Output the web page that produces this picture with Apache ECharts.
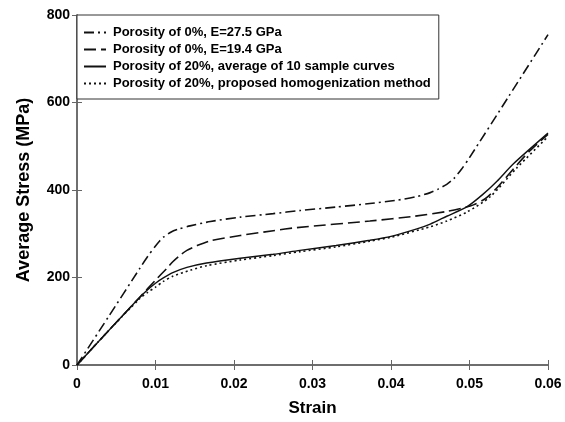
<!DOCTYPE html>
<html>
<head>
<meta charset="utf-8">
<script src="https://cdn.jsdelivr.net/npm/echarts@6/dist/echarts.min.js"></script>
<style>
  html, body {margin: 0; padding: 0; background: #fff;}
  #main {width: 565px; height: 422px;}
</style>
</head>
<body>
<div id="main"></div>
<script>
// legend names
const seriesNames = [
    'Porosity of 0%, E=27.5 GPa',
    'Porosity of 0%, E=19.4 GPa',
    'Porosity of 20%, average of 10 sample curves',
    'Porosity of 20%, proposed homogenization method'
];

// [strain, stress MPa]
const e275 = [[0, 0], [0.004, 110], [0.008, 221], [0.009, 248], [0.010, 272], [0.0105, 283], [0.011, 292],
    [0.012, 304], [0.013, 311], [0.0144, 318], [0.017, 328], [0.0208, 338], [0.025, 346], [0.0284, 353],
    [0.033, 361], [0.0373, 369], [0.0405, 376], [0.0433, 385], [0.045, 394], [0.046, 402], [0.0471, 413],
    [0.048, 426], [0.049, 448], [0.050, 474], [0.055, 614], [0.060, 755]];
const e194 = [[0, 0], [0.004, 78], [0.008, 155], [0.010, 194], [0.0115, 222], [0.0122, 236], [0.013, 249],
    [0.014, 262], [0.0153, 273], [0.017, 284], [0.0208, 296], [0.025, 307], [0.028, 314], [0.0373, 329],
    [0.043, 340], [0.0471, 351], [0.0494, 360], [0.0505, 366], [0.052, 380], [0.0535, 405], [0.0552, 440],
    [0.0577, 490], [0.060, 527]];
const avg20 = [[0, 0], [0.004, 78], [0.008, 155], [0.009, 172], [0.010, 187], [0.011, 199], [0.0122, 211],
    [0.014, 223], [0.0165, 233], [0.0208, 244], [0.025, 253], [0.0284, 262], [0.033, 273], [0.0373, 285],
    [0.040, 294], [0.0433, 311], [0.045, 322], [0.0471, 340], [0.0497, 362], [0.0517, 390], [0.0535, 420],
    [0.0556, 460], [0.060, 530]];
const homog20 = [[0, 0], [0.004, 78], [0.008, 152], [0.009, 166], [0.010, 178], [0.011, 191], [0.0122, 203],
    [0.0145, 217], [0.0165, 227], [0.0208, 240], [0.025, 250], [0.0284, 259], [0.033, 270], [0.0373, 283],
    [0.040, 292], [0.045, 316], [0.0471, 329], [0.0497, 350], [0.0526, 384], [0.056, 450], [0.060, 522]];

const chart = echarts.init(document.getElementById('main'));
const font = 'Liberation Sans, Arial, sans-serif';
const axisCol = '#666';

function mkLine(name, data, type, width) {
    return {
        name: name, type: 'line', data: data, showSymbol: false, symbol: 'none',
        smooth: 0.25, xAxisIndex: 0, yAxisIndex: 0,
        lineStyle: {color: '#111', width: width, type: type},
        itemStyle: {color: '#111'}
    };
}

chart.setOption({
    animation: false,
    backgroundColor: '#fff',
    grid: {left: 77, right: 17, top: 15, bottom: 47},
    legend: {
        data: seriesNames,
        orient: 'vertical',
        left: 77, top: 15,
        width: 362,
        padding: [11, 8, 9, 6],
        itemGap: 4,
        itemWidth: 22, itemHeight: 10,
        borderColor: '#333', borderWidth: 1,
        backgroundColor: '#fff',
        itemStyle: {opacity: 0},
        textStyle: {fontFamily: font, fontWeight: 'bold', fontSize: 13, color: '#000', padding: [0, 0, 0, 2]}
    },
    xAxis: [{
        type: 'value', min: 0, max: 0.06, interval: 0.01,
        name: 'Strain', nameLocation: 'middle', nameGap: 35,
        nameTextStyle: {fontFamily: font, fontWeight: 'bold', fontSize: 17, color: '#000'},
        axisLine: {show: true, lineStyle: {color: axisCol, width: 1.5}},
        axisTick: {show: true, inside: true, length: 5, lineStyle: {color: axisCol}},
        axisLabel: {fontFamily: font, fontWeight: 'bold', fontSize: 14, color: '#000', margin: 12,
            formatter: v => v === 0 ? '0' : v.toFixed(2)},
        splitLine: {show: false}
    }, {
        type: 'value', min: 0, max: 0.06, interval: 0.01, position: 'top',
        axisLine: {show: true, lineStyle: {color: axisCol, width: 1.5}},
        axisTick: {show: true, inside: true, length: 5, lineStyle: {color: axisCol}},
        axisLabel: {show: false}, splitLine: {show: false}
    }],
    yAxis: [{
        type: 'value', min: 0, max: 800, interval: 200,
        name: 'Average Stress (MPa)', nameLocation: 'middle', nameGap: 44, nameRotate: 90,
        nameTextStyle: {fontFamily: font, fontWeight: 'bold', fontSize: 18, color: '#000'},
        axisLine: {show: true, lineStyle: {color: axisCol, width: 1.5}},
        axisTick: {show: true, inside: true, length: 5, lineStyle: {color: axisCol}},
        axisLabel: {fontFamily: font, fontWeight: 'bold', fontSize: 14, color: '#000', margin: 7},
        splitLine: {show: false}
    }, {
        type: 'value', min: 0, max: 800, interval: 200, position: 'right',
        axisLine: {show: true, lineStyle: {color: axisCol, width: 1.5}},
        axisTick: {show: true, inside: true, length: 5, lineStyle: {color: axisCol}},
        axisLabel: {show: false}, splitLine: {show: false}
    }],
    series: [
        mkLine(seriesNames[0], e275, [10, 4, 2, 4], 1.6),
        mkLine(seriesNames[1], e194, [12, 5], 1.6),
        mkLine(seriesNames[2], avg20, 'solid', 1.4),
        mkLine(seriesNames[3], homog20, [2, 3], 1.6)
    ]
});
</script>
</body>
</html>
